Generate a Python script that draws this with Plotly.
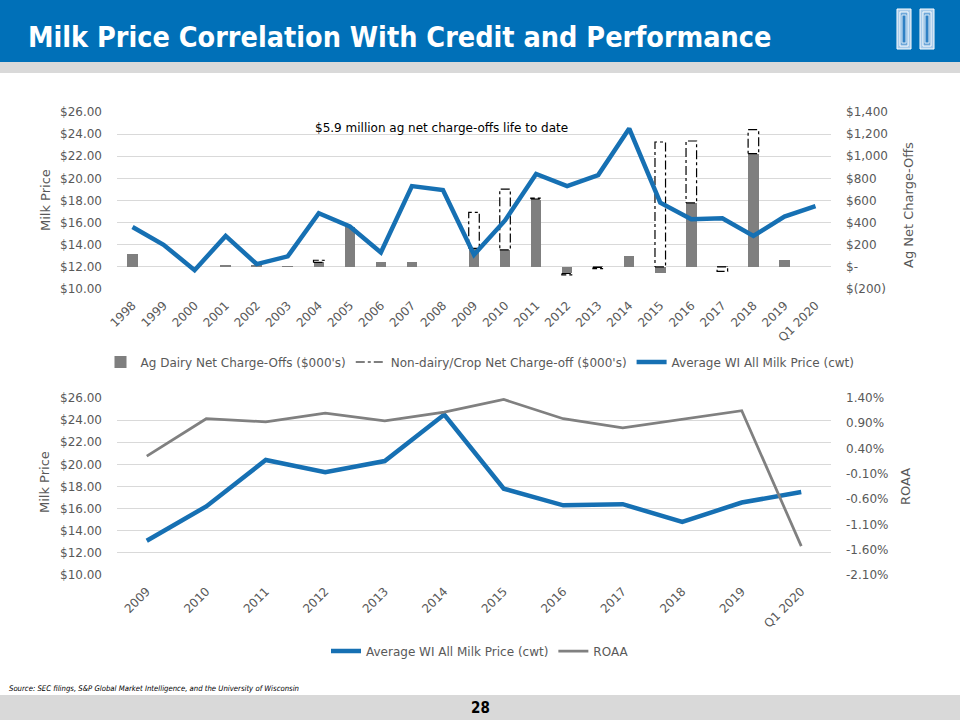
import plotly.graph_objects as go

# ---------------- data ----------------
years = ['1998', '1999', '2000', '2001', '2002', '2003', '2004', '2005', '2006', '2007',
         '2008', '2009', '2010', '2011', '2012', '2013', '2014', '2015', '2016', '2017',
         '2018', '2019', 'Q1 2020']
milk_price = [15.6, 14.0, 11.7, 14.8, 12.25, 12.95, 16.85, 15.65, 13.3, 19.3,
              18.95, 13.1, 16.2, 20.4, 19.3, 20.3, 24.5, 17.8, 16.3, 16.4,
              14.8, 16.55, 17.5]
ag_dairy = [112, 0, 0, 10, 20, 5, 40, 365, 42, 47,
            0, 168, 153, 613, -60, -5, 96, -54, 579, 5,
            1024, 60, 0]
non_dairy = [0, 0, 0, 0, 0, 0, 20, 0, 0, 0,
             0, 325, 550, 8, -12, -10, 0, 1129, 559, -40,
             216, 0, 0]

years2 = ['2009', '2010', '2011', '2012', '2013', '2014', '2015', '2016', '2017',
          '2018', '2019', 'Q1 2020']
roaa = [0.25, 0.99, 0.93, 1.10, 0.95, 1.12, 1.37, 0.99, 0.81, 0.98, 1.15, -1.53]

chargeoff_ticks = [-200, 0, 200, 400, 600, 800, 1000, 1200, 1400]
chargeoff_text = ['$(200)', '$-', '$200', '$400', '$600', '$800', '$1,000', '$1,200', '$1,400']
price_ticks = [10, 12, 14, 16, 18, 20, 22, 24, 26]
price_text = ['$10.00', '$12.00', '$14.00', '$16.00', '$18.00', '$20.00', '$22.00', '$24.00', '$26.00']
roaa_ticks = [-2.1, -1.6, -1.1, -0.6, -0.1, 0.4, 0.9, 1.4]
roaa_text = ['-2.10%', '-1.60%', '-1.10%', '-0.60%', '-0.10%', '0.40%', '0.90%', '1.40%']

# ---------------- style ----------------
W, H = 960, 720
BLUE = '#1670B3'
GRAY_BAR = '#7F7F7F'
GRID = '#D9D9D9'
TXT = '#595959'
FONT = 'DejaVu Sans, Verdana, sans-serif'
NARROW = 'DejaVu Sans Condensed, Liberation Sans Narrow, sans-serif'
BAR_W = 0.34


def px(x):
    return x / W


def py(y):
    return 1 - y / H


xdom = [px(117), px(831)]
top_dom = [py(289), py(112)]
bot_dom = [py(575), py(398)]

idx = list(range(len(years)))
idx2 = list(range(len(years2)))

fig = go.Figure()

# ---- top chart ----
fig.add_trace(go.Bar(x=idx, y=ag_dairy, width=BAR_W, marker=dict(color=GRAY_BAR, line=dict(width=0)),
                     name="Ag Dairy Net Charge-Offs ($000's)", xaxis='x', yaxis='y', legend='legend'))
fig.add_trace(go.Bar(x=idx, y=non_dairy, width=BAR_W, marker=dict(color='white', line=dict(width=0)),
                     name="Non-dairy/Crop Net Charge-off ($000's)", showlegend=False,
                     xaxis='x', yaxis='y'))

# dashed outlines of the stacked non-dairy segments (same stacking rule as the bars)
ox, oy = [], []
for i, (a, n) in enumerate(zip(ag_dairy, non_dairy)):
    if n == 0:
        continue
    base = max(a, 0) if n > 0 else min(a, 0)
    b0, b1 = base, base + n
    xl, xr = i - BAR_W / 2, i + BAR_W / 2
    ox += [xl, xr, xr, xl, xl, None]
    oy += [b0, b0, b1, b1, b0, None]
fig.add_trace(go.Scatter(x=ox, y=oy, mode='lines', line=dict(color='black', width=1.2, dash='dashdot'),
                         name="Non-dairy/Crop Net Charge-off ($000's)", xaxis='x', yaxis='y',
                         legend='legend', hoverinfo='skip'))
fig.add_trace(go.Scatter(x=idx, y=milk_price, mode='lines', line=dict(color=BLUE, width=4.5),
                         name='Average WI All Milk Price (cwt)', xaxis='x', yaxis='y2', legend='legend'))

# ---- bottom chart ----
fig.add_trace(go.Scatter(x=idx2, y=milk_price[len(years) - len(years2):], mode='lines',
                         line=dict(color=BLUE, width=4.5),
                         name='Average WI All Milk Price (cwt)', xaxis='x2', yaxis='y3', legend='legend2'))
fig.add_trace(go.Scatter(x=idx2, y=roaa, mode='lines', line=dict(color='#808080', width=2.75),
                         name='ROAA', xaxis='x2', yaxis='y4', legend='legend2'))

tickfont = dict(family=FONT, size=12, color=TXT)

fig.update_layout(
    template='none',
    width=W, height=H, margin=dict(l=0, r=0, t=0, b=0, pad=0), autosize=False,
    paper_bgcolor='white', plot_bgcolor='white',
    barmode='relative', bargap=0,
    showlegend=True,
    xaxis=dict(domain=xdom, anchor='y', range=[-0.5, len(years) - 0.5], tickmode='array',
               tickvals=idx, ticktext=years, tickangle=-45, tickfont=tickfont, automargin=False,
               showgrid=False, zeroline=False, showline=False, ticks='', ticklabelstandoff=6),
    yaxis=dict(domain=top_dom, anchor='x', side='right', range=[-200, 1400], tickmode='array',
               tickvals=chargeoff_ticks, ticktext=chargeoff_text, tickfont=tickfont, automargin=False,
               showgrid=True, gridcolor=GRID, gridwidth=1, zeroline=False, showline=False,
               ticks='', ticklabelstandoff=14),
    yaxis2=dict(overlaying='y', anchor='x', side='left', range=[10, 26], tickmode='array',
                tickvals=price_ticks, ticktext=price_text, tickfont=tickfont, automargin=False,
                showgrid=False, zeroline=False, showline=False, ticks='', ticklabelstandoff=14),
    xaxis2=dict(domain=xdom, anchor='y3', range=[-0.5, len(years2) - 0.5], tickmode='array',
                tickvals=idx2, ticktext=years2, tickangle=-45, tickfont=tickfont, automargin=False,
                showgrid=False, zeroline=False, showline=False, ticks='', ticklabelstandoff=6),
    yaxis3=dict(domain=bot_dom, anchor='x2', side='left', range=[10, 26], tickmode='array',
                tickvals=price_ticks, ticktext=price_text, tickfont=tickfont, automargin=False,
                showgrid=True, gridcolor=GRID, gridwidth=1, zeroline=False, showline=False,
                ticks='', ticklabelstandoff=14),
    yaxis4=dict(overlaying='y3', anchor='x2', side='right', range=[-2.1, 1.4], tickmode='array',
                tickvals=roaa_ticks, ticktext=roaa_text, tickfont=tickfont, automargin=False,
                showgrid=False, zeroline=False, showline=False, ticks='', ticklabelstandoff=14),
    legend=dict(orientation='h', x=0.5, xanchor='center', y=py(362), yanchor='middle',
                font=dict(family=FONT, size=12, color=TXT), bgcolor='rgba(0,0,0,0)',
                traceorder='normal'),
    legend2=dict(orientation='h', x=0.5, xanchor='center', y=py(651), yanchor='middle',
                 font=dict(family=FONT, size=12, color=TXT), bgcolor='rgba(0,0,0,0)',
                 traceorder='normal'),
)

# ---------------- decorations ----------------
shapes = [
    dict(type='rect', xref='paper', yref='paper', x0=0, x1=1, y0=py(62), y1=1,
         fillcolor='#0070B8', line=dict(width=0), layer='below'),
    dict(type='rect', xref='paper', yref='paper', x0=0, x1=1, y0=py(73), y1=py(62),
         fillcolor='#D9D9D9', line=dict(width=0), layer='below'),
    dict(type='rect', xref='paper', yref='paper', x0=0, x1=1, y0=0, y1=py(695),
         fillcolor='#D9D9D9', line=dict(width=0), layer='below'),
]
# logo: two stylised pillars
for x0 in (897, 920):
    x1 = x0 + 14
    shapes.append(dict(type='rect', xref='paper', yref='paper', x0=px(x0), x1=px(x1),
                       y0=py(49), y1=py(9), fillcolor='#A8CBEA', line=dict(color='white', width=1)))
    shapes.append(dict(type='rect', xref='paper', yref='paper', x0=px(x0 + 3), x1=px(x1 - 3),
                       y0=py(46), y1=py(12), fillcolor='#6FA8DA', line=dict(color='white', width=1)))
    shapes.append(dict(type='rect', xref='paper', yref='paper', x0=px(x0 + 5), x1=px(x1 - 5),
                       y0=py(43), y1=py(15), fillcolor='#2F80C4', line=dict(color='#DDEBF7', width=1)))
fig.update_layout(shapes=shapes)

annotations = [
    dict(text='<b>Milk Price Correlation With Credit and Performance</b>', xref='paper', yref='paper',
         x=px(26), y=py(37), xanchor='left', yanchor='middle', showarrow=False,
         font=dict(family=NARROW, size=28.5, color='white')),
    dict(text='$5.9 million ag net charge-offs life to date', xref='paper', yref='paper',
         x=px(441), y=py(128), xanchor='center', yanchor='middle', showarrow=False,
         font=dict(family=FONT, size=12, color='black')),
    dict(text='Milk Price', xref='paper', yref='paper', x=px(45), y=py(200), textangle=-90,
         xanchor='center', yanchor='middle', showarrow=False, font=dict(family=FONT, size=13, color=TXT)),
    dict(text='Ag Net Charge-Offs', xref='paper', yref='paper', x=px(908), y=py(205), textangle=-90,
         xanchor='center', yanchor='middle', showarrow=False, font=dict(family=FONT, size=13, color=TXT)),
    dict(text='Milk Price', xref='paper', yref='paper', x=px(45), y=py(482), textangle=-90,
         xanchor='center', yanchor='middle', showarrow=False, font=dict(family=FONT, size=13, color=TXT)),
    dict(text='ROAA', xref='paper', yref='paper', x=px(905), y=py(487), textangle=-90,
         xanchor='center', yanchor='middle', showarrow=False, font=dict(family=FONT, size=13, color=TXT)),
    dict(text='<i>Source: SEC filings, S&P Global Market Intelligence, and the University of Wisconsin</i>',
         xref='paper', yref='paper', x=px(7), y=py(688), xanchor='left', yanchor='middle', showarrow=False,
         font=dict(family=NARROW, size=7.7, color='black')),
    dict(text='<b>28</b>', xref='paper', yref='paper', x=0.5, y=py(708), xanchor='center', yanchor='middle',
         showarrow=False, font=dict(family=NARROW, size=15, color='black')),
]
fig.update_layout(annotations=annotations)

fig.write_html('out.html', config={'displayModeBar': False},
               post_script="document.body.style.margin='0';document.body.style.overflow='hidden';")
